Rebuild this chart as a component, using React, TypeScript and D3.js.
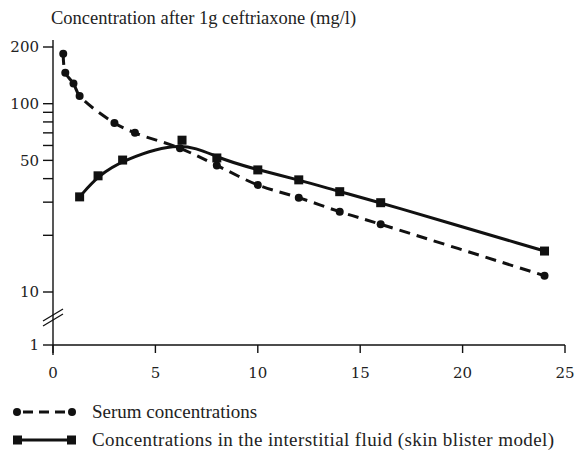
import React from "react";
import * as d3 from "d3";

const serumX = [0.5, 0.6, 1, 1.3, 3, 4, 6.2, 8, 10, 12, 14, 16, 24];
const serumY = [184, 146, 128, 110, 79, 70, 58, 47, 37, 31.7, 26.7, 22.9, 12.2];
const fluidX = [1.3, 2.2, 3.4, 6.3, 8, 10, 12, 14, 16, 24];
const fluidY = [32, 41.4, 50.2, 64, 51.5, 44.5, 39.4, 34.1, 29.8, 16.5];
const xTicks = [0, 5, 10, 15, 20, 25];
const yLabelTicks = [200, 100, 50, 10];
const yMinorTicks = [90, 80, 70, 60, 40, 30, 20];
const title = "Concentration after 1g ceftriaxone (mg/l)";
const legendLabels = [
  "Serum concentrations",
  "Concentrations in the interstitial fluid (skin blister model)",
];

const SERIF = `"Liberation Serif"`;
const TICKSERIF = `"DejaVu Serif"`;

export default function App() {
  const W = 579, H = 457;
  const x = d3.scaleLinear().domain([0, 25]).range([53, 565]);
  const y = d3.scaleLog().domain([10, 200]).range([292, 47]);
  const yOne = 345;
  const ink = "#111";

  const serum = serumX.map((v, i) => [v, serumY[i]] as [number, number]);
  const fluid = fluidX.map((v, i) => [v, fluidY[i]] as [number, number]);

  const serumLine = d3.line<[number, number]>()
    .x(d => x(d[0])).y(d => y(d[1])).curve(d3.curveCatmullRom.alpha(0.5));
  const fluidLine = d3.line<[number, number]>()
    .x(d => x(d[0])).y(d => y(d[1])).curve(d3.curveBasis);

  const tickStyle: React.CSSProperties = { fontFamily: TICKSERIF, fontSize: 15, fill: "#222" };
  const textStyle: React.CSSProperties = { fontFamily: SERIF, fill: "#222" };

  return (
    <svg width={W} height={H} style={{ position: "absolute", left: 0, top: 0, background: "#fff" }}>
      <text x={51} y={24} style={{ ...textStyle, fontSize: 18.5 }}>{title}</text>

      {/* y axis */}
      <line x1={53} x2={53} y1={40} y2={355} stroke={ink} strokeWidth={1.4} />
      {[...yLabelTicks, ...yMinorTicks].map(t => (
        <line key={"yt" + t} x1={43} x2={53} y1={y(t)} y2={y(t)} stroke={ink} strokeWidth={1.4} />
      ))}
      {yLabelTicks.map(t => (
        <text key={"yl" + t} x={39} y={y(t)} dy="0.35em" textAnchor="end" style={tickStyle}>{t}</text>
      ))}
      <line x1={43} x2={53} y1={yOne} y2={yOne} stroke={ink} strokeWidth={1.4} />
      <text x={39} y={yOne} dy="0.35em" textAnchor="end" style={tickStyle}>1</text>
      {/* break marks */}
      <line x1={43} x2={63} y1={321} y2={309} stroke={ink} strokeWidth={1.3} />
      <line x1={43} x2={63} y1={326} y2={314} stroke={ink} strokeWidth={1.3} />

      {/* x axis */}
      <line x1={53} x2={565} y1={yOne} y2={yOne} stroke={ink} strokeWidth={1.4} />
      {xTicks.map(t => (
        <g key={"xt" + t}>
          <line x1={x(t)} x2={x(t)} y1={yOne} y2={353} stroke={ink} strokeWidth={1.4} />
          <text x={x(t)} y={378} textAnchor="middle" style={tickStyle}>{t}</text>
        </g>
      ))}

      {/* series */}
      <path d={serumLine(serum) || ""} fill="none" stroke={ink} strokeWidth={3} strokeDasharray="11 7" />
      <path d={fluidLine(fluid) || ""} fill="none" stroke={ink} strokeWidth={3} />
      {serum.map((d, i) => (
        <circle key={"sc" + i} cx={x(d[0])} cy={y(d[1])} r={4} fill={ink} />
      ))}
      {fluid.map((d, i) => (
        <rect key={"fr" + i} x={x(d[0]) - 4.5} y={y(d[1]) - 4.5} width={9} height={9} fill={ink} />
      ))}

      {/* legend */}
      <line x1={17} x2={72} y1={412} y2={412} stroke={ink} strokeWidth={3} strokeDasharray="10 6" strokeDashoffset={-6} />
      <circle cx={17} cy={412} r={4} fill={ink} />
      <circle cx={72} cy={412} r={4} fill={ink} />
      <text x={92} y={418} style={{ ...textStyle, fontSize: 19 }}>{legendLabels[0]}</text>

      <line x1={17} x2={72} y1={440} y2={440} stroke={ink} strokeWidth={3} />
      <rect x={13} y={435.5} width={9} height={9} fill={ink} />
      <rect x={67} y={435.5} width={9} height={9} fill={ink} />
      <text x={92} y={446} textLength={462} lengthAdjust="spacing" style={{ ...textStyle, fontSize: 19 }}>{legendLabels[1]}</text>
    </svg>
  );
}
